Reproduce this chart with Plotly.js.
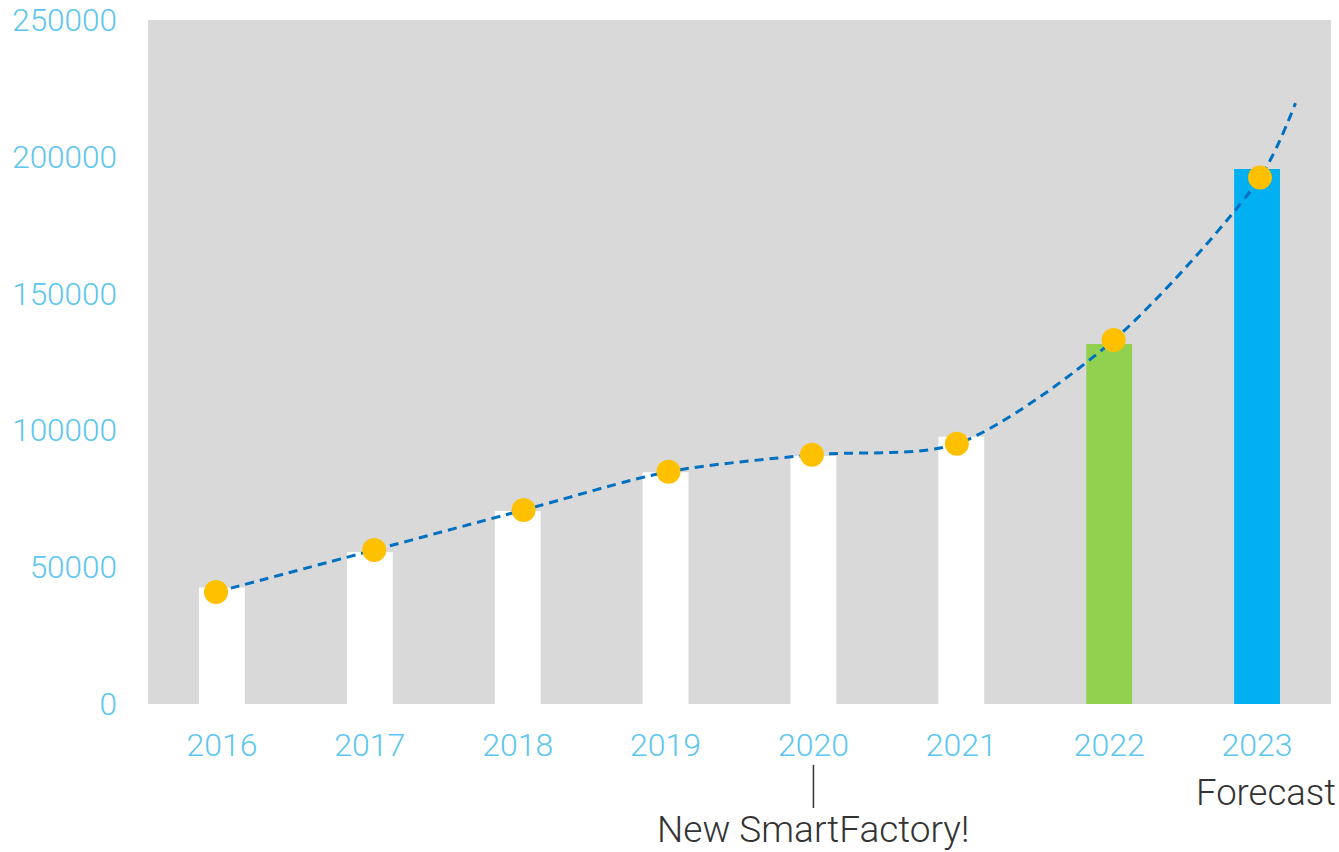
<!DOCTYPE html>
<html>
<head>
<meta charset="utf-8">
<script src="https://cdn.plot.ly/plotly-3.0.1.min.js"></script>
<style>html,body{margin:0;padding:0;background:#fff;}#chart{width:1339px;height:852px;}</style>
</head>
<body>
<div id="chart"></div>
<script>
// Data
const years = ["2016", "2017", "2018", "2019", "2020", "2021", "2022", "2023"];
const barValues = [42600, 55600, 70500, 84700, 90600, 97700, 131600, 195500];
const barColors = ["#FFFFFF", "#FFFFFF", "#FFFFFF", "#FFFFFF", "#FFFFFF", "#FFFFFF", "#92D050", "#00B0F0"];
// Trend dots (slightly offset in x from the bar centres in the original)
const dotX = [-0.04, 1.03, 2.04, 3.02, 3.99, 4.97, 6.03, 7.02];
const dotY = [40900, 56300, 70900, 84900, 91100, 95100, 133000, 192400];
// The dashed trend line runs on past the last dot
const trendX = dotX.concat([7.26]);
const trendY = dotY.concat([219600]);
const yTicks = [0, 50000, 100000, 150000, 200000, 250000];

const tickBlue = "#5CC6F0";
const fontFam = "'Roboto Light', Roboto, 'Open Sans', sans-serif";

const barX = years.map((_, i) => i);

const traces = [
  {
    type: "bar",
    x: barX,
    y: barValues,
    width: 0.31,
    marker: {color: barColors, line: {width: 0}},
    hoverinfo: "skip",
    showlegend: false
  },
  {
    type: "scatter",
    mode: "lines",
    x: trendX,
    y: trendY,
    line: {color: "#0070C0", width: 3, dash: "9px,6px", shape: "spline", smoothing: 0.8},
    hoverinfo: "skip",
    showlegend: false
  },
  {
    type: "scatter",
    mode: "markers",
    x: dotX,
    y: dotY,
    marker: {color: "#FFC000", size: 24, line: {width: 0}},
    hoverinfo: "skip",
    showlegend: false
  }
];

const layout = {
  width: 1339,
  height: 852,
  margin: {l: 148, r: 8, t: 20, b: 148},
  paper_bgcolor: "#FFFFFF",
  plot_bgcolor: "#D9D9D9",
  showlegend: false,
  xaxis: {
    range: [-0.5, 7.5],
    tickmode: "array",
    tickvals: barX,
    ticktext: years,
    showgrid: false,
    zeroline: false,
    showline: false,
    ticks: "",
    ticklabelstandoff: 19,
    tickfont: {family: fontFam, size: 32, color: tickBlue, weight: 300},
    fixedrange: true
  },
  yaxis: {
    range: [0, 250000],
    tickmode: "array",
    tickvals: yTicks,
    ticktext: yTicks.map(String),
    showgrid: false,
    zeroline: false,
    showline: false,
    ticks: "",
    ticklabelstandoff: 30,
    tickfont: {family: fontFam, size: 31.5, color: tickBlue, weight: 300},
    fixedrange: true
  },
  shapes: [
    {type: "line", xref: "x", yref: "paper", x0: 4, x1: 4, y0: -0.089, y1: -0.152,
     line: {color: "#333333", width: 1.5}}
  ],
  annotations: [
    {xref: "x", yref: "paper", x: 4, y: -0.184, text: "New SmartFactory!", showarrow: false,
     xanchor: "center", yanchor: "middle",
     font: {family: fontFam, size: 37, color: "#333333", weight: 300}},
    {xref: "x", yref: "paper", x: 7.06, y: -0.130, text: "Forecast", showarrow: false,
     xanchor: "center", yanchor: "middle",
     font: {family: fontFam, size: 36.5, color: "#333333", weight: 300}}
  ]
};

Plotly.newPlot("chart", traces, layout, {displayModeBar: false, staticPlot: true});
</script>
</body>
</html>
